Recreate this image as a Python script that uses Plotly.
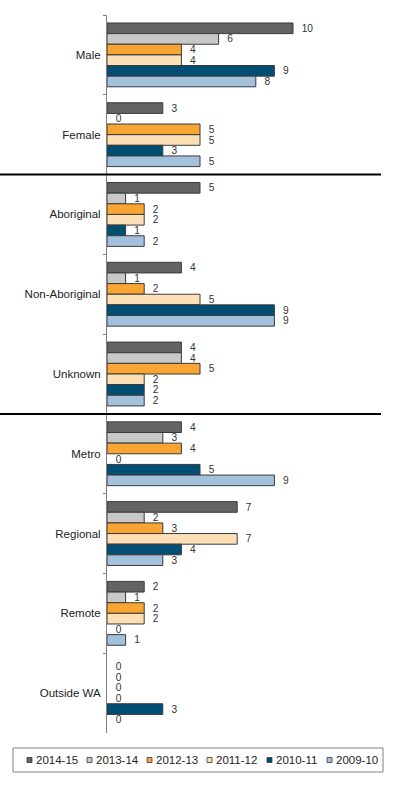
import plotly.graph_objects as go

categories = ["Male", "Female", "Aboriginal", "Non-Aboriginal", "Unknown",
              "Metro", "Regional", "Remote", "Outside WA"]
series_names = ["2014-15", "2013-14", "2012-13", "2011-12", "2010-11", "2009-10"]
v_2014_15 = [10, 3, 5, 4, 4, 4, 7, 2, 0]
v_2013_14 = [6, 0, 1, 1, 4, 3, 2, 1, 0]
v_2012_13 = [4, 5, 2, 2, 5, 4, 3, 2, 0]
v_2011_12 = [4, 5, 2, 5, 2, 0, 7, 2, 0]
v_2010_11 = [9, 3, 1, 9, 2, 5, 4, 0, 3]
v_2009_10 = [8, 5, 2, 9, 2, 9, 3, 1, 0]
series_values = [v_2014_15, v_2013_14, v_2012_13, v_2011_12, v_2010_11, v_2009_10]
colors = ["#636363", "#C8C8C8", "#F9A533", "#FDDFB5", "#004E73", "#A4C1DC"]
separator_after = [1, 4]  # lines after Female and after Unknown

FONT = "Liberation Sans, Arial, sans-serif"
W, H = 397, 785
L, R, T, B = 107, 16, 15, 52
pw, ph = W - L - R, H - T - B

fig = go.Figure()
for name, vals, col in zip(series_names, series_values, colors):
    fig.add_trace(go.Bar(
        y=categories, x=vals, name=name, orientation="h",
        marker=dict(color=col, line=dict(color="#3A3A3A",
                                         width=[1 if v else 0 for v in vals])),
        text=["\u00a0\u00a0" + str(v) for v in vals],
        textposition="outside", cliponaxis=False,
        textfont=dict(family=FONT, size=11.5, color="#333333"),
        outsidetextfont=dict(family=FONT, size=11.5, color="#333333"),
        showlegend=False, hoverinfo="skip",
    ))

shapes = []
for i in separator_after:
    shapes.append(dict(type="line", xref="paper", yref="y",
                       x0=-L / pw, x1=1.0, y0=i + 0.5, y1=i + 0.5,
                       line=dict(color="#000000", width=2)))

def px2x(px):
    return (px - L) / pw

def py2y(py):
    return (H - B - py) / ph

shapes.append(dict(type="rect", xref="paper", yref="paper",
                   x0=px2x(13), x1=px2x(383), y0=py2y(748), y1=py2y(772),
                   line=dict(color="#808080", width=1), fillcolor="rgba(0,0,0,0)"))
annotations = []
for k, (name, col) in enumerate(zip(series_names, colors)):
    cx = 29.5 + 60 * k
    cy = 760
    shapes.append(dict(type="rect", xref="paper", yref="paper",
                       x0=px2x(cx - 2.5), x1=px2x(cx + 2.5),
                       y0=py2y(cy - 2.5), y1=py2y(cy + 2.5),
                       fillcolor=col, line=dict(color="#3A3A3A", width=0.8)))
    annotations.append(dict(xref="paper", yref="paper", x=px2x(cx + 4), y=py2y(cy),
                            text=name, showarrow=False, xanchor="left", yanchor="middle",
                            font=dict(family=FONT, size=11.5, color="#222222")))

fig.update_layout(
    width=W, height=H,
    margin=dict(l=L, r=R, t=T, b=B),
    paper_bgcolor="white", plot_bgcolor="white",
    barmode="group", bargap=0.2, bargroupgap=0,
    showlegend=False, hovermode=False,
    shapes=shapes, annotations=annotations,
    font=dict(family=FONT, size=11, color="#222222"),
    xaxis=dict(range=[0, pw / 18.6], visible=False, fixedrange=True),
    yaxis=dict(autorange="reversed", showline=True, linecolor="#808080", linewidth=1,
               ticks="outside", tickson="boundaries", ticklen=3, tickcolor="#808080",
               showgrid=False, zeroline=False, ticklabelstandoff=3, fixedrange=True,
               tickfont=dict(family=FONT, size=11.5, color="#222222")),
)

fig.write_html("out.html", config={"displayModeBar": False, "staticPlot": True},
               post_script="document.body.style.margin='0';document.body.style.padding='0';")
